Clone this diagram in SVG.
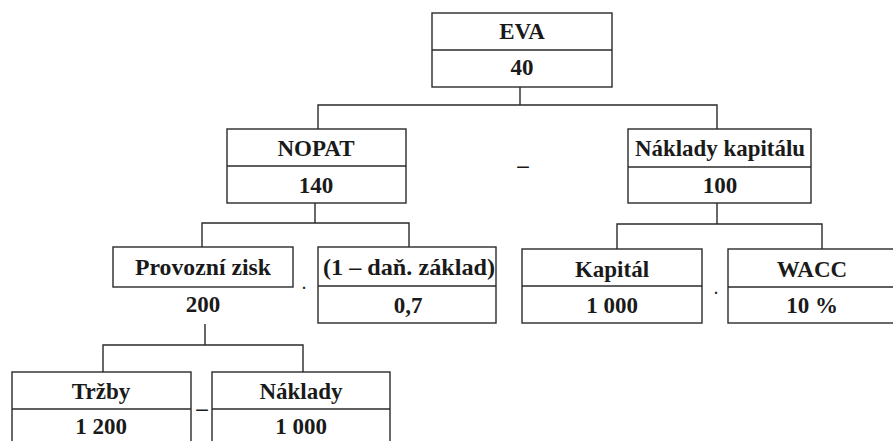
<svg xmlns="http://www.w3.org/2000/svg" width="893" height="441" viewBox="0 0 893 441">
<style>
.box{fill:#fff;stroke:#2a2a2a;stroke-width:1.4}
.div{stroke:#2a2a2a;stroke-width:1.4}
.con{fill:none;stroke:#2a2a2a;stroke-width:1.4}
text{font-family:'Liberation Serif','DejaVu Serif','Noto Serif',serif;font-weight:700;font-size:23px;fill:#1a1a1a;text-anchor:middle}
.op{font-size:14px}
</style>
<rect width="893" height="441" fill="#fff"/>
<g id="connectors">
<path class="con" d="M520 87V105M318 129V105H717V129"/>
<path class="con" d="M315 203V223M202 247V223H409V247"/>
<path class="con" d="M717 203V224M617 249V224H822V249"/>
<path class="con" d="M205 324V345M103 372V345H303V372"/>
</g>
<g id="eva">
<rect class="box" x="432" y="13" width="180" height="74"/>
<line class="div" x1="432" y1="50" x2="612" y2="50"/>
<text x="522" y="39">EVA</text>
<text x="522" y="75">40</text>
</g>
<g id="nopat">
<rect class="box" x="227" y="129" width="179" height="74"/>
<line class="div" x1="227" y1="166" x2="406" y2="166"/>
<text x="316" y="156">NOPAT</text>
<text x="316" y="193">140</text>
</g>
<g id="op-minus-1"><text x="523" y="173">–</text></g>
<g id="naklady-kapitalu">
<rect class="box" x="628" y="129" width="183" height="74"/>
<line class="div" x1="628" y1="167" x2="811" y2="167"/>
<text x="720" y="156" textLength="170" lengthAdjust="spacingAndGlyphs">Náklady kapitálu</text>
<text x="720" y="193">100</text>
</g>
<g id="provozni-zisk">
<rect class="box" x="113" y="247" width="180" height="40"/>
<text x="203" y="275" textLength="136" lengthAdjust="spacingAndGlyphs">Provozní zisk</text>
<text x="203" y="312">200</text>
</g>
<g id="op-dot-1"><text class="op" x="304" y="289">.</text></g>
<g id="dan">
<rect class="box" x="318" y="247" width="178" height="76"/>
<line class="div" x1="318" y1="286" x2="496" y2="286"/>
<text x="409" y="275" textLength="172" lengthAdjust="spacingAndGlyphs">(1 – daň. základ)</text>
<text x="408" y="313">0,7</text>
</g>
<g id="kapital">
<rect class="box" x="522" y="249" width="180" height="74"/>
<line class="div" x1="522" y1="286" x2="702" y2="286"/>
<text x="612" y="277">Kapitál</text>
<text x="612" y="313">1 000</text>
</g>
<g id="op-dot-2"><text class="op" x="716" y="294">.</text></g>
<g id="wacc">
<rect class="box" x="728" y="249" width="170" height="74"/>
<line class="div" x1="728" y1="287" x2="898" y2="287"/>
<text x="812" y="277">WACC</text>
<text x="812" y="313">10 %</text>
</g>
<g id="trzby">
<rect class="box" x="12" y="372" width="179" height="74"/>
<line class="div" x1="12" y1="409" x2="191" y2="409"/>
<text x="101" y="399">Tržby</text>
<text x="101" y="434">1 200</text>
</g>
<g id="op-minus-2"><text x="202" y="416">–</text></g>
<g id="naklady">
<rect class="box" x="212" y="372" width="178" height="74"/>
<line class="div" x1="212" y1="409" x2="390" y2="409"/>
<text x="301" y="399">Náklady</text>
<text x="301" y="434">1 000</text>
</g>
</svg>
